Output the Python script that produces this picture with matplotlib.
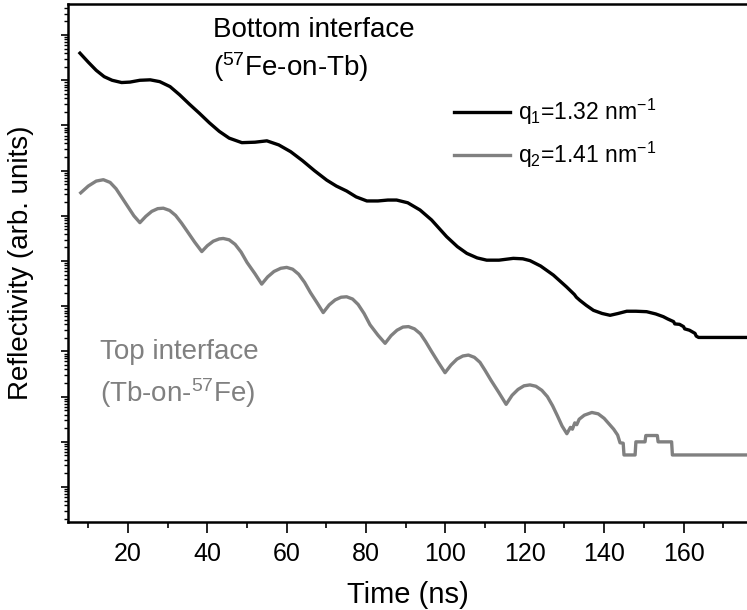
import numpy as np
import matplotlib
matplotlib.use("Agg")
import matplotlib.pyplot as plt
from matplotlib.ticker import LogLocator, NullFormatter, MultipleLocator

plt.rcParams["font.family"] = ["Liberation Sans", "DejaVu Sans"]
plt.rcParams["mathtext.fontset"] = "custom"
plt.rcParams["mathtext.rm"] = "Liberation Sans"
plt.rcParams["mathtext.it"] = "Liberation Sans:italic"
plt.rcParams["mathtext.default"] = "regular"

# bottom interface, q1 = 1.32 nm^-1  (log10 of reflectivity, arb. units)
t_q1 = [7.9, 10, 12, 14, 16, 18.4, 20.5, 23, 25.6, 28, 30.6, 33, 35.5, 38, 40.5,
        43, 45.5, 48.7, 52, 55, 58, 61, 64, 67, 70.1, 72.5, 75.1, 77.5, 80.2, 83,
        85.5, 87.7, 90.5, 93.6, 96.5, 100.3, 103, 105.4, 108, 110.4, 113.5, 117.1,
        119.5, 121.3, 124, 127.2, 130.5, 132.5, 133.0, 133.9, 135.5, 137.3, 139.5,
        141.5, 143.5, 145.7, 148, 150.7, 153, 154.9, 156, 157.5, 157.8, 159, 160,
        160.3, 161.5, 162.9, 163.2, 163.8, 176]
log_r_q1 = [9.60, 9.40, 9.22, 9.08, 9.00, 8.95, 8.96, 9.00, 9.01, 8.97, 8.86, 8.68,
            8.47, 8.27, 8.06, 7.87, 7.72, 7.62, 7.63, 7.66, 7.57, 7.42, 7.22, 7.00,
            6.79, 6.66, 6.55, 6.42, 6.33, 6.33, 6.35, 6.35, 6.29, 6.13, 5.91, 5.54,
            5.32, 5.17, 5.07, 5.02, 5.02, 5.06, 5.05, 5.01, 4.89, 4.69, 4.43, 4.26,
            4.20, 4.13, 4.02, 3.91, 3.84, 3.80, 3.84, 3.89, 3.89, 3.88, 3.83, 3.77,
            3.72, 3.66, 3.61, 3.60, 3.55, 3.50, 3.47, 3.40, 3.34, 3.31, 3.31]

# top interface, q2 = 1.41 nm^-1
t_q2 = [8.1, 10, 12, 13.8, 15.5, 17, 18.5, 20, 21.5, 23.0,
        24.5, 26, 27.5, 28.9, 30.5, 32, 33.5, 35, 36.8, 38.6,
        40, 41.5, 43, 44, 45.5, 47, 48.5, 50, 52, 53.7,
        55.2, 56.8, 58.5, 60, 61.5, 63, 64.5, 66, 67.7, 69.2,
        70.7, 72.2, 73.7, 75.1, 76.6, 78, 79.5, 81, 83, 84.8,
        86.3, 87.8, 89.3, 90.7, 92.2, 93.7, 95, 96.5, 98.2, 99.9,
        101.4, 102.9, 104.4, 105.8, 107.3, 108.7, 110, 111.5, 113.4, 115.3,
        116.8, 118.3, 119.8, 121.3, 122.8, 124.3, 125.7, 127, 128.2, 129.4, 130.6,
        131.5, 132.0, 132.6, 133.1, 133.7, 135, 136.9, 138.5, 140, 141.2, 142.4,
        143.4, 144.0, 144.8, 145.0, 147.8, 148.0, 150.3, 150.5, 153.4, 153.6,
        157.0, 157.2, 176]
log_r_q2 = [6.51, 6.66, 6.77, 6.80, 6.74, 6.60, 6.40, 6.20, 6.00, 5.85,
            5.99, 6.10, 6.16, 6.17, 6.12, 6.01, 5.84, 5.65, 5.42, 5.21,
            5.34, 5.44, 5.49, 5.50, 5.47, 5.37, 5.20, 4.97, 4.72, 4.49,
            4.65, 4.77, 4.84, 4.86, 4.82, 4.71, 4.53, 4.30, 4.07, 3.86,
            4.03, 4.14, 4.20, 4.21, 4.16, 4.04, 3.84, 3.59, 3.36, 3.18,
            3.35, 3.47, 3.54, 3.55, 3.50, 3.39, 3.22, 3.00, 2.76, 2.53,
            2.70, 2.83, 2.90, 2.92, 2.87, 2.76, 2.58, 2.36, 2.10, 1.83,
            2.03, 2.16, 2.24, 2.26, 2.23, 2.14, 2.00, 1.80, 1.58, 1.35, 1.18,
            1.32, 1.28, 1.42, 1.38, 1.50, 1.59, 1.65, 1.62, 1.52, 1.40, 1.28,
            1.15, 0.98, 0.97, 0.71, 0.71, 1.00, 1.00, 1.14, 1.14, 1.00,
            1.00, 0.71, 0.71]

labels = [r"q$_1$=1.32 nm$^{-1}$", r"q$_2$=1.41 nm$^{-1}$"]
colors = ["black", "#808080"]

W, H = 747, 610
fig = plt.figure(figsize=(W / 100, H / 100), dpi=100)
ax = fig.add_axes([68.3 / W, 1 - 522.3 / H, 1 - 68.3 / W, (522.3 - 3.9) / H])

ax.plot(t_q1, 10 ** np.array(log_r_q1), color=colors[0], lw=2.4, label=labels[0])
ax.plot(t_q2, 10 ** np.array(log_r_q2), color=colors[1], lw=2.4, label=labels[1])

ax.set_yscale("log")
ax.set_xlim(4.96, 176.0)
ax.set_ylim(10 ** -0.78, 10 ** 10.69)
ax.yaxis.set_major_locator(LogLocator(base=10, numticks=20))
ax.yaxis.set_minor_locator(LogLocator(base=10, subs=np.arange(2, 10), numticks=20))
ax.yaxis.set_major_formatter(NullFormatter())
ax.yaxis.set_minor_formatter(NullFormatter())
ax.xaxis.set_major_locator(MultipleLocator(20))
ax.xaxis.set_minor_locator(MultipleLocator(10))

for s in ["left", "bottom", "top"]:
    ax.spines[s].set_linewidth(1.8)
ax.spines["right"].set_visible(False)
ax.tick_params(axis="x", which="major", direction="out", length=8, width=1.2,
               labelsize=18, pad=6)
ax.tick_params(axis="x", which="minor", direction="out", length=4.5, width=1.2)
ax.tick_params(axis="y", which="major", direction="out", length=5, width=1.2)
ax.tick_params(axis="y", which="minor", direction="out", length=3, width=1.0)

ax.set_xlabel("Time (ns)", fontsize=21, labelpad=11)
ax.set_ylabel("Reflectivity (arb. units)", fontsize=20, labelpad=16)

fig.text(212.7 / W, 1 - 37.3 / H, "Bottom interface", fontsize=20, va="baseline")
fig.text(212.7 / W, 1 - 76 / H, r"($^{57}$Fe-on-Tb)", fontsize=20, va="baseline")
fig.text(100 / W, 1 - 359.3 / H, "Top interface", fontsize=20, va="baseline",
         color=colors[1])
fig.text(100 / W, 1 - 401.7 / H, r"(Tb-on-$^{57}$Fe)", fontsize=20, va="baseline",
         color=colors[1])

ax.legend(loc="upper left", bbox_to_anchor=(454 / W, 1 - 97 / H),
          bbox_transform=fig.transFigure, frameon=False, fontsize=16.5,
          handlelength=2.45, handletextpad=0.35, labelspacing=0.55,
          borderpad=0, borderaxespad=0)

fig.savefig("out.png", dpi=100)
